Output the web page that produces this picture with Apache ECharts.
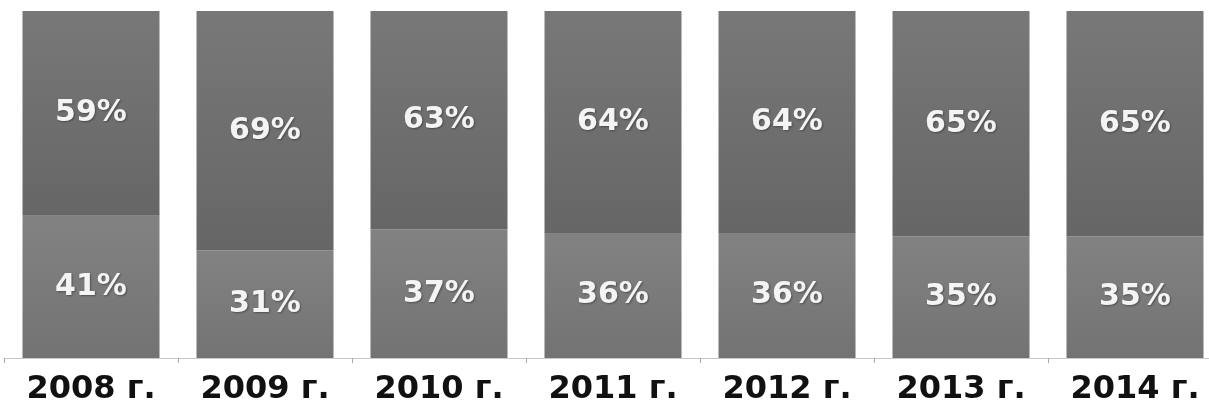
<!DOCTYPE html>
<html><head><meta charset="utf-8">
<script src="https://cdn.jsdelivr.net/npm/echarts@6/dist/echarts.min.js"></script>
<style>html,body{margin:0;padding:0;background:#fff;overflow:hidden;}#c{width:1222px;height:409px;}</style>
</head><body><div id="c"></div>
<script>
const categories = ['2008 г.', '2009 г.', '2010 г.', '2011 г.', '2012 г.', '2013 г.', '2014 г.'];
const lowerShare = [41, 31, 37, 36, 36, 35, 35];
const upperShare = [59, 69, 63, 64, 64, 65, 65];

const chart = echarts.init(document.getElementById('c'), null, {renderer: 'canvas'});
const labelStyle = {
  show: true, position: 'inside', formatter: '{c}%',
  color: '#f4f4f4', fontFamily: 'DejaVu Sans', fontWeight: 'bold', fontSize: 30,
  textShadowColor: 'rgba(0,0,0,0.35)', textShadowBlur: 2, textShadowOffsetX: 1, textShadowOffsetY: 1
};
chart.setOption({
  animation: false,
  backgroundColor: '#ffffff',
  grid: {left: 4, right: 0, top: 11, bottom: 51, containLabel: false},
  xAxis: {
    type: 'category', data: categories,
    axisLine: {show: true, lineStyle: {color: '#c8c8c8', width: 1}},
    axisTick: {show: true, length: 5, lineStyle: {color: '#a8a8a8'}},
    axisLabel: {color: '#111', fontFamily: 'DejaVu Sans', fontWeight: 'bold', fontSize: 32, margin: 16}
  },
  yAxis: {type: 'value', min: 0, max: 100, show: false, splitLine: {show: false}},
  series: [
    {
      type: 'bar', stack: 'total', data: lowerShare, barWidth: 137,
      itemStyle: {color: new echarts.graphic.LinearGradient(0, 0, 0, 1, [
        {offset: 0, color: '#828282'}, {offset: 1, color: '#737373'}])},
      label: labelStyle
    },
    {
      type: 'bar', stack: 'total', data: upperShare, barWidth: 137,
      itemStyle: {color: new echarts.graphic.LinearGradient(0, 0, 0, 1, [
        {offset: 0, color: '#787878'}, {offset: 1, color: '#666666'}])},
      label: labelStyle
    }
  ]
});
</script>
</body></html>
